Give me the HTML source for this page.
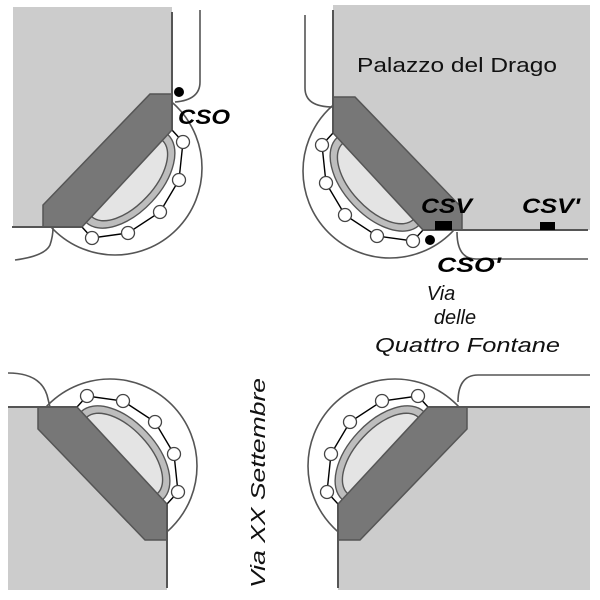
<!DOCTYPE html>
<html><head><meta charset="utf-8"><style>html,body{margin:0;padding:0;background:#fff}svg{display:block}</style></head>
<body>
<svg width="600" height="600" viewBox="0 0 600 600" xmlns="http://www.w3.org/2000/svg">
<defs>
<g id="rings">
  <circle cx="115" cy="168" r="87" fill="#fff" stroke="#555" stroke-width="1.6"/>
  <ellipse cx="127" cy="178.5" rx="60" ry="34" transform="rotate(-47 127 178.5)" fill="#bdbdbd" stroke="#555" stroke-width="1.4"/>
  <ellipse cx="127" cy="178.5" rx="52" ry="27" transform="rotate(-47 127 178.5)" fill="#e4e4e4" stroke="#555" stroke-width="1.4"/>
  <polyline points="172,130 183,142 179,180 160,212 128,233 92,238 82,227" fill="none" stroke="#000" stroke-width="1.4"/>
  <g fill="#fff" stroke="#444" stroke-width="1.3">
    <circle cx="183" cy="142" r="6.5"/><circle cx="179" cy="180" r="6.5"/><circle cx="160" cy="212" r="6.5"/><circle cx="128" cy="233" r="6.5"/><circle cx="92" cy="238" r="6.5"/>
  </g>
</g>
<polygon id="band" points="150,94 172,94 172,130 82,227 43,227 43,205" fill="#777" stroke="#555" stroke-width="1.5"/>
</defs>

<!-- TL -->
<g>
  <use href="#rings"/>
  <polygon points="13,7 172,7 172,130 82,227 13,227" fill="#ccc"/>
  <use href="#band"/>
  <polyline points="172,12 172,130" fill="none" stroke="#555" stroke-width="2"/>
  <polyline points="12,227 82,227" fill="none" stroke="#555" stroke-width="2"/>
</g>
<!-- TR -->
<g transform="translate(505,3) scale(-1,1)">
  <use href="#rings"/>
  <polygon points="-85,2 172,2 172,130 82,227 -85,227" fill="#ccc"/>
  <use href="#band"/>
  <polyline points="172,7 172,130" fill="none" stroke="#555" stroke-width="2"/>
  <polyline points="-83,227 82,227" fill="none" stroke="#555" stroke-width="2"/>
</g>
<!-- BL -->
<g transform="translate(-5,634) scale(1,-1)">
  <use href="#rings"/>
  <polygon points="13,44 172,44 172,130 82,227 13,227" fill="#ccc"/>
  <use href="#band"/>
  <polyline points="172,46 172,130" fill="none" stroke="#555" stroke-width="2"/>
  <polyline points="13,227 82,227" fill="none" stroke="#555" stroke-width="2"/>
</g>
<!-- BR -->
<g transform="translate(510,634) scale(-1,-1)">
  <use href="#rings"/>
  <polygon points="-80,44 172,44 172,130 82,227 -80,227" fill="#ccc"/>
  <use href="#band"/>
  <polyline points="172,46 172,130" fill="none" stroke="#555" stroke-width="2"/>
  <polyline points="-80,227 82,227" fill="none" stroke="#555" stroke-width="2"/>
</g>

<!-- curbs -->
<g fill="none" stroke="#555" stroke-width="1.6">
  <path d="M200,10 L200,82 Q200,100 175,102"/>
  <path d="M15,260 Q45,256 50,245 Q53,236 53,228"/>
  <path d="M305,15 L305,88 Q305,107 333,107"/>
  <path d="M457,232 Q457,259 476,259 L588,259"/>
  <path d="M8,373 Q40,373 47,395 L50,407"/>
  <path d="M590,375 L478,375 Q458,375 458,402"/>
</g>

<!-- markers -->
<circle cx="179" cy="92" r="5" fill="#000"/>
<circle cx="430" cy="240" r="5" fill="#000"/>
<rect x="435" y="221" width="17" height="9" fill="#000"/>
<rect x="540" y="222" width="15" height="8" fill="#000"/>

<g font-family="Liberation Sans, sans-serif" fill="#000">
  <text x="178" y="124" font-size="21" font-weight="bold" font-style="italic" textLength="52" lengthAdjust="spacingAndGlyphs">CSO</text>
  <text x="421" y="213" font-size="21" font-weight="bold" font-style="italic" textLength="51" lengthAdjust="spacingAndGlyphs">CSV</text>
  <text x="522" y="213" font-size="21" font-weight="bold" font-style="italic" textLength="58" lengthAdjust="spacingAndGlyphs">CSV'</text>
  <text x="437" y="272" font-size="21" font-weight="bold" font-style="italic" textLength="64" lengthAdjust="spacingAndGlyphs">CSO'</text>
  <text x="357" y="72" font-size="20" fill="#111" textLength="200" lengthAdjust="spacingAndGlyphs">Palazzo del Drago</text>
  <text x="441" y="300" font-size="20" font-style="italic" text-anchor="middle" fill="#111">Via</text>
  <text x="455" y="324" font-size="20" font-style="italic" text-anchor="middle" fill="#111">delle</text>
  <text x="375" y="352" font-size="20" font-style="italic" fill="#111" textLength="185" lengthAdjust="spacingAndGlyphs">Quattro Fontane</text>
  <text transform="translate(265,588) rotate(-90)" font-size="20" font-style="italic" fill="#111" textLength="210" lengthAdjust="spacingAndGlyphs">Via  XX Settembre</text>
</g>
</svg>
</body></html>
